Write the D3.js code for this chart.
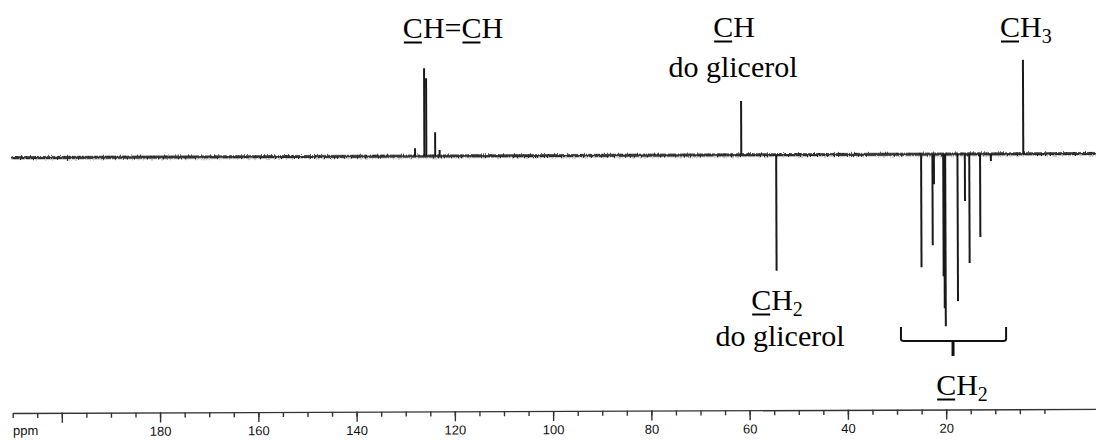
<!DOCTYPE html>
<html>
<head>
<meta charset="utf-8">
<script src="https://cdn.jsdelivr.net/npm/d3@7/dist/d3.min.js"></script>
</head>
<body style="margin:0; background:#fff">
<svg id="chart"></svg>
<script>
const width = 1096;
const height = 440;

// chemical shift (ppm) and DEPT-135 intensity (up = CH/CH3, down = CH2)
const peakPpm = [127.9, 126.0, 125.6, 123.8, 122.9, 61.5, 4.1,
                 54.4,
                 24.9, 22.6, 22.3, 20.4, 20.2, 20.0, 17.5, 16.0, 15.1, 12.9, 10.7];
const peakIntensity = [8, 88, 78, 24, 6, 54, 94,
                       -116,
                       -113, -91, -30, -122, -154, -172, -147, -47, -109, -83, -7];

const majorTicks = [200, 180, 160, 140, 120, 100, 80, 60, 40, 20];
const minorTicks = d3.range(210, -1, -5);
const tickLabels = ["", "180", "160", "140", "120", "100", "80", "60", "40", "20"];

// pick a Times-metric serif that is really there (checked on a canvas)
const serifCandidates = ["Liberation Serif", "Times New Roman", "Tinos", "Times", "Nimbus Roman", "FreeSerif"];
const ctx = document.createElement("canvas").getContext("2d");
function widthWith(name) {
  ctx.font = `100px "${name}", monospace`;
  return ctx.measureText("do glicerol").width;
}
let serifName = serifCandidates.find(n => Math.abs(widthWith(n) - 430.5) < 4);
const serifFont = serifName
  ? `"${serifName}", "Noto Serif CJK SC", serif`
  : '"Noto Serif CJK SC", "Noto Serif CJK JP", "Liberation Serif", serif';
const plotFont = '"Liberation Sans", Arial, sans-serif';

// Times advance widths (em), used for the underlines and centring
const adv = {"C": 0.667, "H": 0.722, "=": 0.564, "2": 0.5, "3": 0.5};

const svg = d3.select("#chart")
  .attr("width", width)
  .attr("height", height);

const x = d3.scaleLinear().domain([210, -10.7]).range([11.7, width]);
const y = d3.scaleLinear().domain([-180, 100]).range([155.7 + 180, 155.7 - 100]);

// baseline noise is only texture, done with a filter
const f = svg.append("defs").append("filter")
  .attr("id", "rough")
  .attr("filterUnits", "userSpaceOnUse")
  .attr("x", 0).attr("y", 0).attr("width", width).attr("height", height);
f.append("feTurbulence")
  .attr("type", "fractalNoise")
  .attr("baseFrequency", "0.7 0.5")
  .attr("numOctaves", 2)
  .attr("seed", 4)
  .attr("result", "n");
f.append("feDisplacementMap")
  .attr("in", "SourceGraphic")
  .attr("in2", "n")
  .attr("scale", 4)
  .attr("xChannelSelector", "R")
  .attr("yChannelSelector", "G");

// labels
const labels = svg.append("g");

const fs = 30;
const subFs = 20;

function chemLabel(cx, by, parts, anchor) {
  const widths = parts.map(p => [...p.t].reduce((s, c) => s + adv[c] * (p.sub ? subFs : fs), 0));
  const total = d3.sum(widths);
  const x0 = anchor === "start" ? cx : cx - total / 2;
  const t = labels.append("text")
    .attr("x", x0)
    .attr("y", by)
    .style("font-family", serifFont)
    .style("font-size", fs + "px");
  let pos = x0;
  parts.forEach((p, i) => {
    const ts = t.append("tspan").text(p.t);
    if (p.sub) ts.attr("dy", 6).style("font-size", subFs + "px");
    if (p.u) {
      labels.append("line")
        .attr("x1", pos + 1).attr("x2", pos + widths[i] - 1)
        .attr("y1", by + 4.5).attr("y2", by + 4.5)
        .attr("stroke", "#000")
        .attr("stroke-width", 2);
    }
    pos += widths[i];
  });
}

function plainLabel(cx, by, s) {
  labels.append("text")
    .attr("x", cx)
    .attr("y", by)
    .attr("text-anchor", "middle")
    .style("font-family", serifFont)
    .style("font-size", fs + "px")
    .text(s);
}

chemLabel(453, 38, [{t: "C", u: true}, {t: "H="}, {t: "C", u: true}, {t: "H"}]);
chemLabel(734, 37, [{t: "C", u: true}, {t: "H"}]);
plainLabel(733, 77, "do glicerol");
chemLabel(1000, 37, [{t: "C", u: true}, {t: "H"}, {t: "3", sub: true}], "start");
chemLabel(777, 310, [{t: "C", u: true}, {t: "H"}, {t: "2", sub: true}]);
plainLabel(780, 346, "do glicerol");
chemLabel(962, 395, [{t: "C", u: true}, {t: "H"}, {t: "2", sub: true}]);

// bracket over the CH2 chain signals
const bracket = [29.0, 18.4, 7.6];
const bTop = 327, bMid = 341, bTip = 356;
labels.append("path")
  .attr("fill", "none")
  .attr("stroke", "#111")
  .attr("stroke-width", 2)
  .attr("d", `M${x(bracket[0])},${bTop} L${x(bracket[0])},${bMid - 2} Q${x(bracket[0])},${bMid} ${x(bracket[0]) + 3},${bMid}
    L${x(bracket[2]) - 3},${bMid} Q${x(bracket[2])},${bMid} ${x(bracket[2])},${bMid - 2} L${x(bracket[2])},${bTop}`);
labels.append("line")
  .attr("x1", x(bracket[1])).attr("x2", x(bracket[1]))
  .attr("y1", bMid).attr("y2", bTip)
  .attr("stroke", "#111")
  .attr("stroke-width", 3);

// the plot is printed very slightly skewed
const plot = svg.append("g")
  .attr("transform", `rotate(-0.22, ${width / 2}, 155.7)`);

plot.append("line")
  .attr("x1", x(210)).attr("x2", width)
  .attr("y1", y(0)).attr("y2", y(0))
  .attr("stroke", "#222")
  .attr("stroke-width", 3)
  .attr("filter", "url(#rough)");

plot.append("line")
  .attr("x1", x(210)).attr("x2", width)
  .attr("y1", y(0)).attr("y2", y(0))
  .attr("stroke", "#333")
  .attr("stroke-width", 1.4);

const peaks = peakPpm.map((p, i) => ({ppm: p, v: peakIntensity[i]}));

plot.append("g")
  .attr("stroke", "#1a1a1a")
  .attr("stroke-width", 2)
  .selectAll("line")
  .data(peaks)
  .join("line")
    .attr("x1", d => x(d.ppm))
    .attr("x2", d => x(d.ppm))
    .attr("y1", y(0))
    .attr("y2", d => y(d.v));

// axis at the bottom of the page
const axisY = 411;

const minorAxis = d3.axisBottom(x)
  .tickValues(minorTicks)
  .tickSize(5)
  .tickSizeOuter(0)
  .tickFormat("");

const majorAxis = d3.axisBottom(x)
  .tickValues(majorTicks)
  .tickSize(10)
  .tickSizeOuter(0)
  .tickPadding(4)
  .tickFormat((d, i) => tickLabels[i]);

const gMinor = plot.append("g")
  .attr("transform", `translate(0,${axisY})`)
  .call(minorAxis);

const gMajor = plot.append("g")
  .attr("transform", `translate(0,${axisY})`)
  .call(majorAxis);

[gMinor, gMajor].forEach(g => {
  g.selectAll("path, line").attr("stroke", "#333").attr("stroke-width", 1.4);
});
gMajor.select(".domain").remove();
gMajor.attr("font-family", null).attr("font-size", null);
gMajor.selectAll("text")
  .attr("fill", "#111")
  .style("font-family", plotFont)
  .style("font-size", "13px");

plot.append("text")
  .attr("x", 12)
  .attr("y", axisY + 22)
  .attr("fill", "#111")
  .style("font-family", plotFont)
  .style("font-size", "13px")
  .text("ppm");
</script>
</body>
</html>
